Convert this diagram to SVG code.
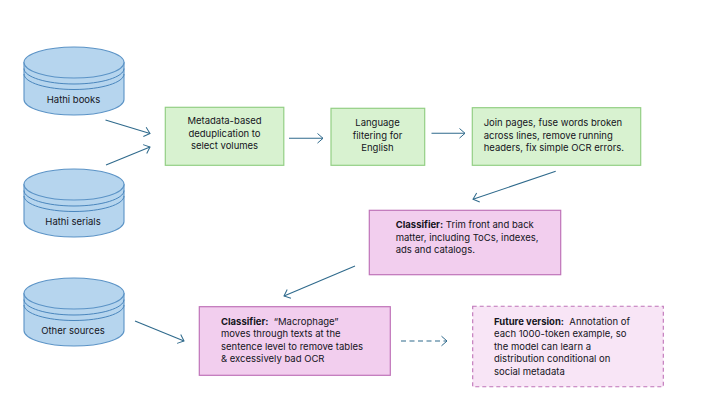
<svg xmlns="http://www.w3.org/2000/svg" width="720" height="405" viewBox="0 0 720 405">
<style>
text{font-family:"Inter","Noto Sans","Liberation Sans",sans-serif;font-size:9.5px;fill:#14141c;white-space:pre}
.c{text-anchor:middle}
.b{font-weight:700}
.cyl{fill:#b6d5ee;stroke:#5b93c6;stroke-width:1.1}
.arc{fill:none;stroke:#4a86bd;stroke-width:1}
.green{fill:#d8f2d0;stroke:#93cf84;stroke-width:1.2}
.pink{fill:#f2ceee;stroke:#bf73b8;stroke-width:1.2}
.future{fill:#f8e5f6;stroke:#bf73b8;stroke-width:1.1;stroke-dasharray:4 3}
.link{fill:none;stroke:#2f6a8c;stroke-width:1.1;marker-end:url(#arrow)}
</style>
<defs>
<marker id="arrow" markerUnits="userSpaceOnUse" markerWidth="14" markerHeight="14" refX="10" refY="7" orient="auto">
<path d="M4.500 2.200L10 7L4.500 11.800" fill="none" stroke="#2f6a8c" stroke-width="1"/>
</marker>
<g id="cyl-shape">
<path class="cyl" d="M24 62.500V99.500C24 108 46.400 115 74 115S124 108 124 99.500V62.500Z"/>
<ellipse class="cyl" cx="74" cy="62.500" rx="50" ry="15.500"/>
<path class="arc" d="M24 68.500C24 77 46.400 84 74 84S124 77 124 68.500M24 74C24 82.500 46.400 89.500 74 89.500S124 82.500 124 74"/>
</g>
</defs>
<g id="connectors">
<path class="link" d="M105.500 120L150 133.500"/>
<path class="link" d="M106 165L150 147"/>
<path class="link" d="M289 138.300H323"/>
<path class="link" d="M431.500 133.300H465"/>
<path class="link" d="M555.700 171.300L473 199.300"/>
<path class="link" d="M355 266L284 296"/>
<path class="link" d="M135 321L184 341"/>
<path class="link" stroke-dasharray="5 3.500" d="M401 341H447"/>
</g>
<g id="hathi-books"><use href="#cyl-shape"/><text class="c" x="73.500" y="102.500">Hathi books</text></g>
<g id="hathi-serials"><use href="#cyl-shape" y="122"/><text class="c" x="73" y="224.500">Hathi serials</text></g>
<g id="other-sources"><use href="#cyl-shape" y="231"/><text class="c" x="73" y="334">Other sources</text></g>
<g id="dedup"><rect class="green" x="165.300" y="107.300" width="118.500" height="58"/>
<text class="c" x="224.500" y="124">Metadata-based</text><text class="c" x="224.500" y="136.500">deduplication to</text><text class="c" x="224.500" y="149">select volumes</text></g>
<g id="language"><rect class="green" x="331" y="108.300" width="93.700" height="57"/>
<text class="c" x="377.500" y="126">Language</text><text class="c" x="377.500" y="138.500">filtering for</text><text class="c" x="377.500" y="151">English</text></g>
<g id="join"><rect class="green" x="472.300" y="107.700" width="168.400" height="57.600"/>
<text x="483.700" y="126">Join pages, fuse words broken</text><text x="483.700" y="138.500">across lines, remove running</text><text x="483.700" y="151">headers, fix simple OCR errors.</text></g>
<g id="classifier-trim"><rect class="pink" x="369.300" y="210.300" width="191.400" height="64.400"/>
<text x="395.700" y="228"><tspan class="b">Classifier:</tspan> Trim front and back</text><text x="395.700" y="240.500">matter, including ToCs, indexes,</text><text x="395.700" y="253">ads and catalogs.</text></g>
<g id="classifier-macrophage"><rect class="pink" x="199.300" y="306.700" width="191" height="68.600"/>
<text x="221" y="324.500"><tspan class="b">Classifier:</tspan>  “Macrophage”</text><text x="221" y="337">moves through texts at the</text><text x="221" y="349.500">sentence level to remove tables</text><text x="221" y="362">&amp; excessively bad OCR</text></g>
<g id="future-version"><rect class="future" x="472.700" y="306.300" width="190.600" height="80.400"/>
<text x="494" y="324.500"><tspan class="b">Future version:</tspan>  Annotation of</text><text x="494" y="337">each 1000-token example, so</text><text x="494" y="349.500">the model can learn a</text><text x="494" y="362">distribution conditional on</text><text x="494" y="374.500">social metadata</text></g>
</svg>
